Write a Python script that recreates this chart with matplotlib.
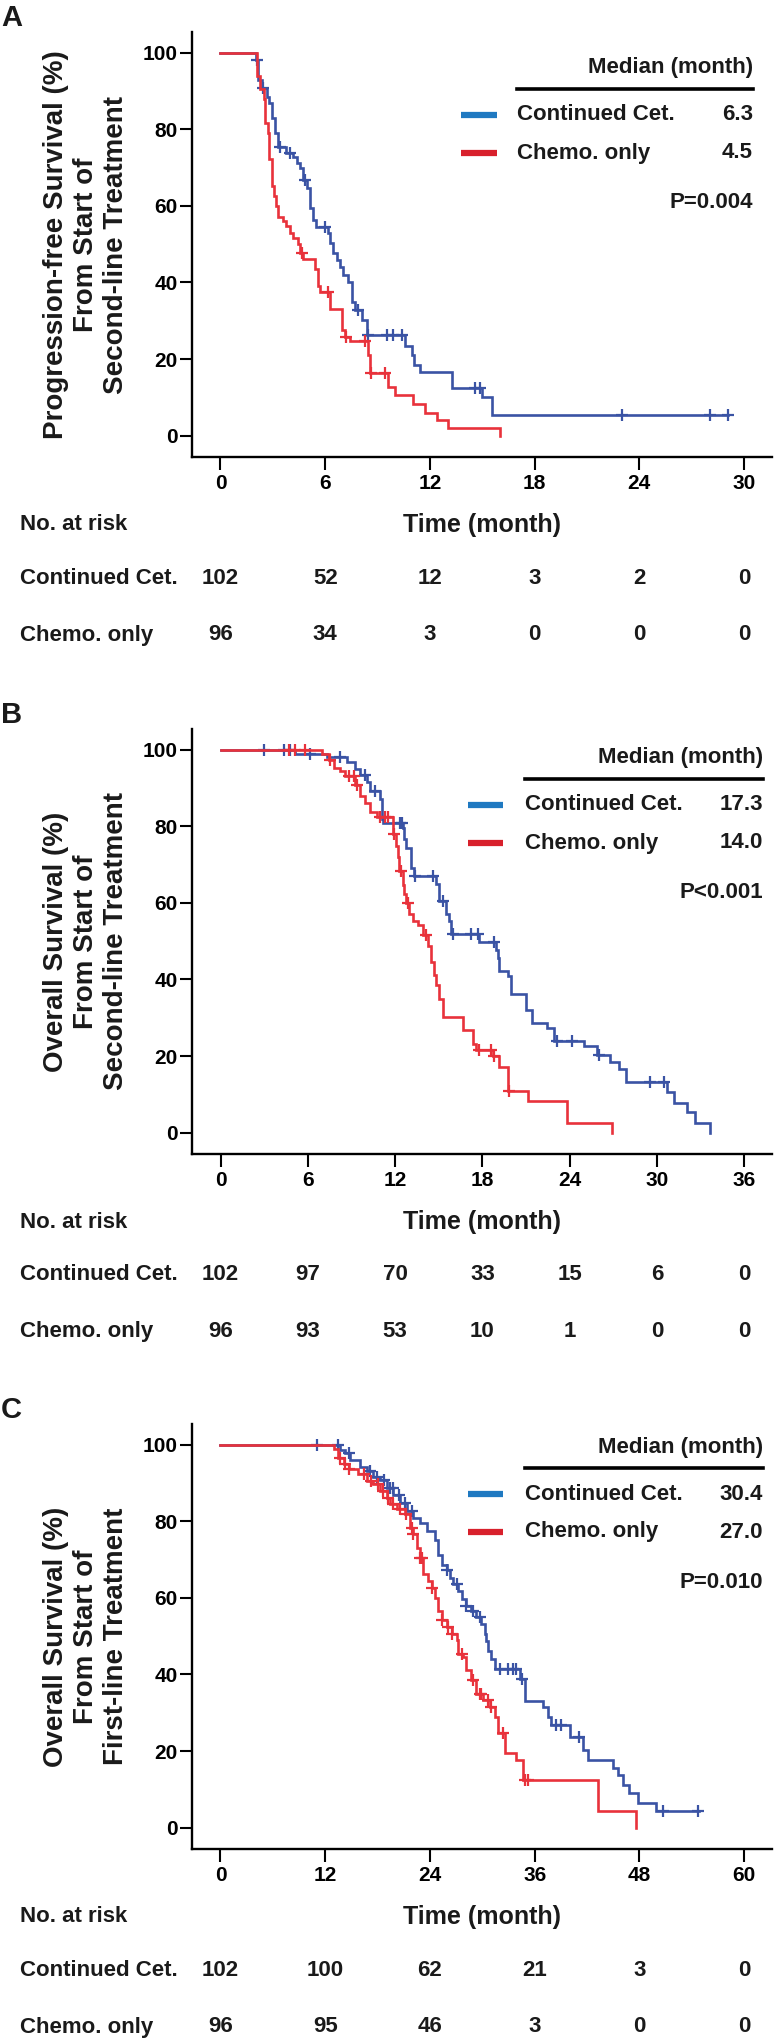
import numpy as np
import matplotlib
matplotlib.use('Agg')
import matplotlib.pyplot as plt
from matplotlib.transforms import blended_transform_factory

plt.rcParams['font.family'] = ['Liberation Sans', 'DejaVu Sans']

# ---------------- Panel A : PFS from start of second-line ----------------
a_ct_t = [2.03, 2.16, 2.35, 2.64, 2.79, 2.93, 3.12, 3.31, 3.78, 4.16, 4.36, 4.55, 4.74, 4.95,
          5.12, 5.31, 5.50, 6.17, 6.27, 6.46, 6.65, 6.84, 7.03, 7.32, 7.51, 7.70, 8.08, 8.37,
          10.57, 10.95, 11.10, 11.43, 13.24, 14.96, 15.53]
a_ct_s = [98.1, 92.9, 90.7, 88.5, 86.8, 82.9, 79.0, 75.5, 73.7, 72.8, 71.1, 69.8, 66.8, 64.6,
          59.4, 56.3, 54.6, 52.8, 50.2, 47.6, 45.9, 44.1, 42.0, 40.2, 35.0, 32.8, 30.2, 26.3,
          23.5, 21.0, 18.4, 16.7, 12.4, 10.0, 5.4]
a_ct_cens = [2.08, 2.45, 3.41, 3.98, 4.83, 5.98, 7.89, 8.47, 9.52, 9.9, 10.4, 14.58, 14.87,
             22.98, 28.05, 29.1]
a_ct_end = 29.1
a_ch_t = [2.07, 2.26, 2.51, 2.55, 2.74, 2.79, 2.93, 3.06, 3.17, 3.27, 3.59, 3.78, 3.98, 4.16,
          4.42, 4.55, 4.74, 5.41, 5.60, 5.70, 6.27, 6.94, 7.13, 7.42, 8.47, 8.56, 9.61, 9.99,
          11.04, 11.71, 12.38, 13.05, 16.0]
a_ch_s = [93.9, 90.4, 87.8, 81.7, 79.1, 72.2, 65.2, 62.6, 60.0, 57.0, 56.1, 54.8, 53.0, 51.7,
          50.0, 47.8, 46.1, 43.5, 39.2, 37.4, 33.1, 27.5, 25.9, 24.6, 21.1, 16.3, 12.8, 10.6,
          8.4, 5.8, 4.1, 1.9, 0.0]
a_ch_cens = [4.67, 6.17, 7.2, 8.3, 8.6, 9.45]
a_ch_end = 16.0
a_ticks = [0, 6, 12, 18, 24, 30]
a_risk_ct = [102, 52, 12, 3, 2, 0]
a_risk_ch = [96, 34, 3, 0, 0, 0]
a_median = ['6.3', '4.5']
a_p = 'P=0.004'
a_ylabel = 'Progression-free Survival (%)\nFrom Start of\nSecond-line Treatment'

# ---------------- Panel B : OS from start of second-line ----------------
b_ct_t = [5.1, 7.3, 8.69, 9.26, 9.6, 10.06, 10.29, 10.97, 11.09, 11.2, 12.57, 12.6, 12.75,
          13.1, 13.33, 14.8, 15.04, 15.5, 15.73, 15.84, 17.78, 18.93, 19.04, 19.15, 19.73,
          19.95, 20.98, 21.44, 22.47, 22.93, 24.98, 25.9, 26.8, 27.38, 27.84, 30.7, 31.15,
          32.07, 32.64, 33.67]
b_ct_s = [99.0, 98.1, 96.7, 94.9, 93.5, 91.6, 89.3, 87.0, 81.8, 80.9, 79.5, 76.7, 74.4,
          69.2, 66.9, 65.0, 60.4, 57.1, 55.3, 52.0, 49.7, 47.8, 45.5, 42.2, 40.8,
          36.2, 32.0, 28.7, 27.3, 24.0, 22.6, 20.3, 18.5, 16.6, 13.3, 10.5, 7.7,
          5.4, 2.6, 0.0]
b_ct_cens = [2.97, 4.34, 4.8, 6.17, 8.23, 9.94, 10.63, 12.34, 12.45, 13.4, 14.58, 15.27, 15.95,
             17.2, 17.67, 18.81, 23.15, 24.18, 26.0, 29.55, 30.46]
b_ct_end = 33.67
b_ch_t = [6.97, 7.43, 7.77, 8.23, 8.57, 9.26, 9.6, 9.94, 10.29, 10.74, 11.84, 12.07, 12.18,
          12.3, 12.53, 12.64, 12.75, 12.98, 13.2, 13.55, 13.9, 14.24, 14.47, 14.7, 14.8, 15.04,
          15.27, 16.64, 17.33, 17.55, 18.7, 19.15, 19.73, 21.1, 23.84, 26.93]
b_ch_s = [99.0, 97.2, 95.3, 94.4, 93.0, 90.7, 87.9, 86.0, 83.7, 82.3, 78.0, 74.8, 72.0,
          68.3, 64.6, 62.3, 59.9, 57.1, 55.3, 54.3, 51.5, 48.7, 44.5, 41.3, 38.5, 34.8,
          30.1, 26.8, 23.1, 21.7, 19.9, 17.1, 11.0, 8.2, 2.6, 0.0]
b_ch_cens = [4.69, 5.14, 5.83, 7.54, 8.8, 9.14, 9.37, 10.97, 11.31, 11.54, 11.95, 12.4, 12.87,
             14.13, 17.78, 18.58, 18.81, 19.84]
b_ch_end = 26.93
b_ticks = [0, 6, 12, 18, 24, 30, 36]
b_risk_ct = [102, 97, 70, 33, 15, 6, 0]
b_risk_ch = [96, 93, 53, 10, 1, 0, 0]
b_median = ['17.3', '14.0']
b_p = 'P<0.001'
b_ylabel = 'Overall Survival (%)\nFrom Start of\nSecond-line Treatment'

# ---------------- Panel C : OS from start of first-line ----------------
c_ct_t = [13.71, 14.29, 14.86, 16.0, 16.76, 17.52, 18.29, 19.05, 19.81, 20.57, 21.33, 22.1,
          22.86, 23.62, 24.57, 24.95, 25.33, 25.9, 26.29, 26.67, 27.24, 27.62, 28.19, 28.76,
          29.33, 29.9, 30.29, 30.48, 30.67, 31.05, 31.43, 34.29, 34.86, 36.95, 37.52, 37.9,
          40.0, 41.52, 42.1, 44.95, 45.52, 46.1, 46.86, 47.81, 49.9]
c_ct_s = [98.6, 97.8, 96.0, 94.3, 93.0, 91.6, 90.8, 88.8, 86.9, 84.7, 82.6, 80.8,
          79.5, 77.4, 75.2, 71.3, 68.7, 67.4, 65.2, 63.5, 61.8, 59.6, 57.9, 56.6,
          54.9, 53.1, 50.5, 48.8, 46.2, 44.0, 41.4, 38.8, 33.2, 31.5, 28.9, 26.7,
          23.7, 20.3, 17.7, 15.6, 13.8, 11.2, 9.1, 6.5, 4.3]
c_ct_cens = [11.05, 13.52, 14.67, 17.1, 17.9, 18.7, 19.4, 19.8, 20.4, 21.1, 21.9, 25.9, 27.05,
             28.19, 28.95, 29.7, 32.0, 32.95, 33.52, 33.9, 34.5, 38.48, 39.05, 41.14, 50.67,
             54.67]
c_ct_end = 54.86
c_ch_t = [12.95, 13.52, 14.1, 14.67, 15.81, 16.76, 17.52, 18.29, 19.05, 19.43, 20.19, 21.14,
          21.71, 22.1, 22.48, 22.86, 23.24, 23.81, 24.19, 24.57, 24.95, 25.33, 25.9, 26.48,
          27.05, 27.24, 27.81, 28.19, 28.76, 29.33, 30.1, 30.86, 31.43, 31.81, 32.57, 33.9,
          34.67, 43.24, 47.62]
c_ch_s = [99.0, 96.6, 94.9, 93.6, 92.3, 90.6, 89.7, 88.0, 86.2, 84.5, 83.1, 81.8,
          78.3, 76.6, 73.1, 70.5, 66.2, 64.4, 62.7, 60.1, 56.7, 54.1, 52.3, 50.6,
          48.9, 45.4, 44.5, 41.1, 38.5, 35.0, 33.3, 31.6, 29.0, 24.6, 19.4, 17.7,
          12.5, 4.3, 0.0]
c_ch_cens = [13.7, 14.3, 14.67, 16.5, 17.2, 18.0, 18.6, 19.2, 19.8, 20.6, 21.3, 21.9, 22.1,
             22.86, 23.05, 24.19, 25.33, 26.1, 26.48, 27.62, 28.95, 29.7, 29.9, 30.67, 31.05,
             32.4, 34.86, 35.24]
c_ch_end = 47.62
c_ticks = [0, 12, 24, 36, 48, 60]
c_risk_ct = [102, 100, 62, 21, 3, 0]
c_risk_ch = [96, 95, 46, 3, 0, 0]
c_median = ['30.4', '27.0']
c_p = 'P=0.010'
c_ylabel = 'Overall Survival (%)\nFrom Start of\nFirst-line Treatment'

groups = ['Continued Cet.', 'Chemo. only']
y_ticks = [0, 20, 40, 60, 80, 100]

BLUE, RED = '#3a53a4', '#e8323b'
BLUE_LEG, RED_LEG = '#1f79c1', '#d8202c'
TXT = '#1a1a1a'

W, H = 774, 2039
AX_L, AX_W, AX_H = 191.7, 580.3, 425.0


def km(ax, t, s, end, cens, color):
    t = np.asarray(t)
    s = np.asarray(s)
    x = np.r_[0, t, end]
    y = np.r_[100, s, s[-1]]
    ax.step(x, y, where='post', color=color, lw=1.9, solid_joinstyle='miter')
    cens = np.asarray(cens)
    sv = np.r_[100, s][np.searchsorted(t, cens, side='right')]
    ax.plot(cens, sv, ls='none', marker='+', ms=9, mew=1.6, color=color)


panels = [
    dict(letter='A', top=32, xlim=(-1.65, 31.6), ticks=a_ticks,
         ct=(a_ct_t, a_ct_s, a_ct_end, a_ct_cens), ch=(a_ch_t, a_ch_s, a_ch_end, a_ch_cens),
         risk=(a_risk_ct, a_risk_ch), med=a_median, p=a_p, ylabel=a_ylabel,
         leg_y=[36, 57, 83, 121, 170], leg_x=(461, 497, 517, 753)),
    dict(letter='B', top=729, xlim=(-1.98, 37.9), ticks=b_ticks,
         ct=(b_ct_t, b_ct_s, b_ct_end, b_ct_cens), ch=(b_ch_t, b_ch_s, b_ch_end, b_ch_cens),
         risk=(b_risk_ct, b_risk_ch), med=b_median, p=b_p, ylabel=b_ylabel,
         leg_y=[29, 50, 76, 114, 163], leg_x=(468, 503, 525, 763)),
    dict(letter='C', top=1424, xlim=(-3.3, 63.2), ticks=c_ticks,
         ct=(c_ct_t, c_ct_s, c_ct_end, c_ct_cens), ch=(c_ch_t, c_ch_s, c_ch_end, c_ch_cens),
         risk=(c_risk_ct, c_risk_ch), med=c_median, p=c_p, ylabel=c_ylabel,
         leg_y=[23, 44, 70, 108, 158], leg_x=(468, 503, 525, 763)),
]

fig = plt.figure(figsize=(W / 100, H / 100), dpi=100)

for p in panels:
    top = p['top']
    ax = fig.add_axes([AX_L / W, 1 - (top + AX_H) / H, AX_W / W, AX_H / H])
    km(ax, *p['ct'], BLUE)
    km(ax, *p['ch'], RED)

    ax.set_xlim(*p['xlim'])
    ax.set_ylim(-5.56, 105.4)
    ax.set_xticks(p['ticks'])
    ax.set_yticks(y_ticks)
    for side in ['top', 'right']:
        ax.spines[side].set_visible(False)
    for side in ['left', 'bottom']:
        ax.spines[side].set_linewidth(1.7)
    ax.tick_params(axis='both', length=9, width=1.5, labelsize=15, colors='black')
    ax.tick_params(axis='x', pad=3)
    ax.tick_params(axis='y', pad=1)
    for lab in ax.get_xticklabels() + ax.get_yticklabels():
        lab.set_fontweight('bold')

    ax.text(-0.182, 0.5, p['ylabel'], transform=ax.transAxes, rotation=90,
            ha='center', va='center', fontsize=20, fontweight='bold',
            linespacing=1.2, multialignment='center', color=TXT)

    # time label and risk table
    ax.text(0.5, -68 / AX_H, 'Time (month)', transform=ax.transAxes, ha='center',
            va='center', fontsize=18, fontweight='bold', color=TXT)
    fx = blended_transform_factory(fig.transFigure, ax.transAxes)
    dx = blended_transform_factory(ax.transData, ax.transAxes)
    ax.text(20 / W, -68 / AX_H, 'No. at risk', transform=fx, ha='left', va='center',
            fontsize=16, fontweight='bold', color=TXT)
    for row_y, name, counts in zip([-121 / AX_H, -178 / AX_H], groups, p['risk']):
        ax.text(20 / W, row_y, name, transform=fx, ha='left', va='center',
                fontsize=16, fontweight='bold', color=TXT)
        for tk, n in zip(p['ticks'], counts):
            ax.text(tk, row_y, str(n), transform=dx, ha='center', va='center',
                    fontsize=16, fontweight='bold', color=TXT)

    # median legend
    h0, h1, x0, x1 = [(v - AX_L) / AX_W for v in p['leg_x']]
    ly = [1 - v / AX_H for v in p['leg_y']]
    ax.text(x1, ly[0], 'Median (month)', transform=ax.transAxes, ha='right', va='center',
            fontsize=16, fontweight='bold', color=TXT)
    ax.plot([x0, x1], [ly[1], ly[1]], transform=ax.transAxes, color='black', lw=2.6,
            clip_on=False)
    for yy, name, med, col in zip(ly[2:4], groups, p['med'], [BLUE_LEG, RED_LEG]):
        ax.plot([h0, h1], [yy, yy], transform=ax.transAxes, color=col, lw=4.5,
                solid_capstyle='butt', clip_on=False)
        ax.text(x0, yy, name, transform=ax.transAxes, ha='left', va='center',
                fontsize=16, fontweight='bold', color=TXT)
        ax.text(x1, yy, med, transform=ax.transAxes, ha='right', va='center',
                fontsize=16, fontweight='bold', color=TXT)
    ax.text(x1, ly[4], p['p'], transform=ax.transAxes, ha='right', va='center',
            fontsize=16, fontweight='bold', color=TXT)

    fig.text(1 / W, 1 - (top - 28) / H, p['letter'], ha='left', va='top',
             fontsize=21, fontweight='bold', color=TXT)

fig.savefig('out.png', dpi=100, facecolor='white')
